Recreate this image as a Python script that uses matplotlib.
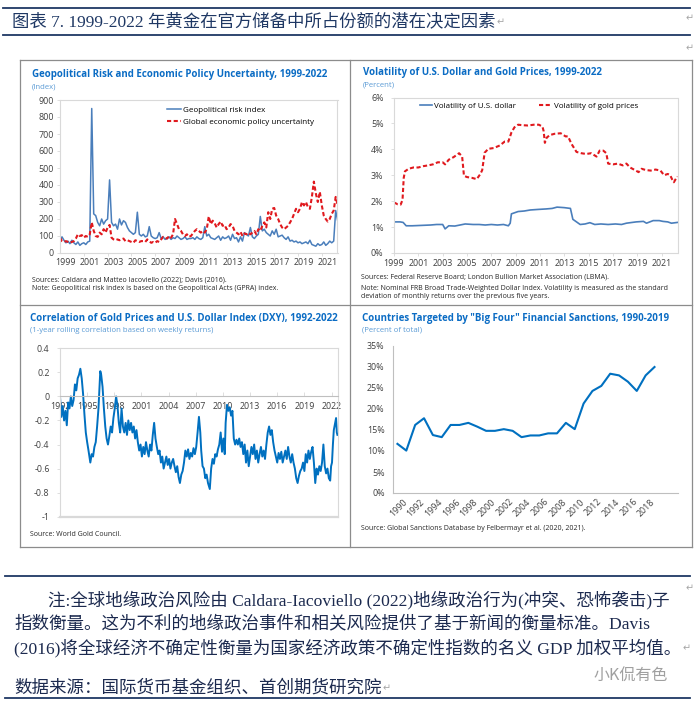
import matplotlib
matplotlib.use("Agg")
import matplotlib.pyplot as plt
import matplotlib.transforms as mtransforms
from matplotlib.lines import Line2D
from matplotlib.text import Annotation
import numpy as np

# %% data ---------------------------------------------------------------------
# geopolitical risk index and global EPU, every second month from Jan 1999
gpr = [
    70, 95, 75, 60, 70, 55,       # 1999
    75, 60, 50, 65, 45, 55,       # 2000
    60, 50, 65, 70, 850, 230,     # 2001
    220, 180, 160, 200, 170, 190,  # 2002
    200, 430, 180, 160, 170, 140,  # 2003
    200, 165, 190, 180, 150, 130,  # 2004
    120, 110, 120, 240, 110, 100,  # 2005
    110, 95, 100, 155, 100, 90,   # 2006
    85, 90, 120, 85, 95, 80,      # 2007
    85, 95, 80, 90, 85, 100,      # 2008
    90, 80, 85, 95, 80, 85,       # 2009
    85, 90, 80, 95, 85, 80,       # 2010
    90, 155, 100, 110, 90, 85,    # 2011
    80, 90, 100, 75, 95, 85,      # 2012
    90, 100, 75, 110, 85, 90,     # 2013
    65, 95, 70, 120, 110, 100,    # 2014
    150, 95, 85, 100, 110, 215,   # 2015
    130, 140, 120, 110, 100, 130,  # 2016
    110, 140, 95, 100, 105, 90,   # 2017
    80, 95, 70, 75, 65, 70,       # 2018
    60, 65, 55, 60, 65, 55,       # 2019
    75, 50, 45, 40, 55, 45,       # 2020
    50, 65, 45, 55, 70, 60,       # 2021
    70, 250, 190,                 # 2022
]
epu = [
    90, 70, 65, 70, 65, 60,
    65, 70, 85, 110, 100, 105,
    90, 100, 95, 110, 180, 130,
    100, 95, 120, 110, 140, 120,
    150, 165, 90, 80, 75, 80,
    75, 80, 85, 70, 75, 70,
    65, 60, 75, 70, 65, 70,
    70, 65, 80, 70, 60, 65,
    60, 70, 65, 80, 95, 90,
    85, 100, 90, 110, 200, 170,
    140, 130, 110, 100, 110, 95,
    100, 115, 130, 140, 130, 120,
    130, 120, 140, 215, 170, 190,
    175, 150, 170, 185, 160, 165,
    140, 150, 170, 160, 130, 120,
    110, 125, 100, 115, 110, 120,
    110, 120, 130, 110, 140, 130,
    160, 180, 150, 240, 200, 260,
    265, 220, 200, 170, 150, 140,
    150, 160, 180, 200, 230, 260,
    240, 260, 300, 280, 300, 270,
    260, 330, 420, 350, 300, 360,
    280, 220, 200, 185, 200, 230,
    250, 330, 280,
]
geo_labels = [1999, 2001, 2003, 2005, 2007, 2009, 2011, 2013, 2015, 2017, 2019, 2021]

# volatility (percent)
gold_years = [1999.0, 1999.3, 1999.55, 1999.7, 1999.8, 1999.9, 2000.2, 2000.6,
              2001.0, 2001.4, 2001.8, 2002.2, 2002.6, 2003.0, 2003.2, 2003.5,
              2003.9, 2004.2, 2004.35, 2004.6, 2004.75, 2005.0, 2005.4, 2005.8,
              2006.1, 2006.25, 2006.45, 2006.75, 2007.2, 2007.7, 2008.1, 2008.4,
              2008.65, 2008.9, 2009.2, 2009.6, 2010.0, 2010.5, 2010.9, 2011.2,
              2011.3, 2011.4, 2011.55, 2011.8, 2012.2, 2012.7, 2013.1, 2013.3,
              2013.6, 2014.0, 2014.4, 2014.8, 2015.2, 2015.65, 2015.9, 2016.2,
              2016.45, 2016.6, 2017.0, 2017.4, 2017.8, 2018.1, 2018.4, 2018.8,
              2019.1, 2019.35, 2019.7, 2020.1, 2020.5, 2020.9, 2021.2, 2021.5,
              2021.7, 2021.85, 2022.0, 2022.15, 2022.3]
gold_vol = [1.95, 1.88, 1.87, 2.05, 2.9, 3.15, 3.25, 3.3,
            3.3, 3.35, 3.38, 3.42, 3.5, 3.5, 3.42, 3.6,
            3.7, 3.8, 3.85, 3.72, 2.98, 2.93, 2.9, 2.85,
            3.05, 3.2, 3.87, 4.02, 4.05, 4.15, 4.3, 4.3,
            4.65, 4.85, 4.95, 4.93, 4.92, 4.95, 4.95, 4.88,
            4.7, 4.25, 4.45, 4.55, 4.6, 4.62, 4.5, 4.5,
            4.2, 3.9, 3.85, 3.82, 3.85, 3.72, 3.95, 3.95,
            3.85, 3.45, 3.42, 3.45, 3.38, 3.45, 3.3, 3.2,
            3.12, 3.25, 3.2, 3.18, 3.22, 3.18, 3.0, 3.05,
            3.0, 2.85, 2.73, 2.85, 2.95]
usd_years = [1999.0, 1999.5, 1999.75, 2000.0, 2000.5, 2001.0, 2001.5, 2002.0,
             2002.5, 2003.0, 2003.2, 2003.5, 2004.0, 2004.85, 2005.5, 2006.0,
             2006.5, 2007.0, 2007.5, 2008.0, 2008.4, 2008.55, 2008.65, 2009.2,
             2009.7, 2010.2, 2010.8, 2011.5, 2012.0, 2012.4, 2013.0, 2013.5,
             2013.7, 2014.0, 2014.3, 2014.7, 2015.1, 2015.5, 2016.0, 2016.6,
             2017.2, 2017.7, 2018.1, 2018.9, 2019.5, 2019.75, 2020.3, 2020.8,
             2021.1, 2021.5, 2021.8, 2022.3]
usd_vol = [1.2, 1.2, 1.18, 1.05, 1.05, 1.06, 1.07, 1.08,
           1.1, 1.1, 0.93, 1.05, 1.04, 1.12, 1.1, 1.1,
           1.08, 1.1, 1.08, 1.1, 1.05, 1.15, 1.51, 1.6,
           1.62, 1.66, 1.68, 1.7, 1.72, 1.77, 1.75, 1.72,
           1.3, 1.2, 1.1, 1.12, 1.17, 1.1, 1.12, 1.1,
           1.12, 1.1, 1.15, 1.2, 1.22, 1.15, 1.25, 1.25,
           1.22, 1.2, 1.15, 1.18]
vol_labels = [1999, 2001, 2003, 2005, 2007, 2009, 2011, 2013, 2015, 2017, 2019, 2021]

# gold / DXY rolling correlation
corr_years = [
    1992.0, 1992.15, 1992.3, 1992.45, 1992.6, 1992.75, 1992.9, 1993.05,
    1993.2, 1993.35, 1993.5, 1993.65, 1993.8, 1993.95, 1994.1, 1994.25,
    1994.4, 1994.55, 1994.7, 1994.85, 1995.0, 1995.15, 1995.35, 1995.5,
    1995.65, 1995.8, 1995.95, 1996.1, 1996.25, 1996.35, 1996.45, 1996.55,
    1996.7, 1996.85, 1997.0, 1997.15, 1997.3, 1997.45, 1997.6, 1997.75,
    1997.9, 1998.05, 1998.2, 1998.35, 1998.5, 1998.65, 1998.8, 1998.95,
    1999.1, 1999.25, 1999.4, 1999.55, 1999.7, 1999.85, 2000.0, 2000.15,
    2000.3, 2000.45, 2000.6, 2000.75, 2000.9, 2001.05, 2001.2, 2001.35,
    2001.5, 2001.65, 2001.8, 2001.95, 2002.1, 2002.25, 2002.4, 2002.55,
    2002.7, 2002.85, 2003.0, 2003.15, 2003.3, 2003.45, 2003.6, 2003.75,
    2003.9, 2004.05, 2004.2, 2004.35, 2004.5, 2004.65, 2004.8, 2004.95,
    2005.1, 2005.25, 2005.4, 2005.55, 2005.7, 2005.85, 2006.0, 2006.15,
    2006.3, 2006.45, 2006.6, 2006.75, 2006.9, 2007.05, 2007.2, 2007.35,
    2007.5, 2007.6, 2007.75, 2007.9, 2008.05, 2008.2, 2008.35, 2008.55,
    2008.7, 2008.85, 2009.0, 2009.15, 2009.3, 2009.45, 2009.6, 2009.75,
    2009.9, 2010.05, 2010.2, 2010.3, 2010.45, 2010.6, 2010.75, 2010.9,
    2011.05, 2011.2, 2011.35, 2011.5, 2011.65, 2011.8, 2011.95, 2012.1,
    2012.25, 2012.4, 2012.55, 2012.7, 2012.85, 2013.0, 2013.15, 2013.3,
    2013.45, 2013.6, 2013.75, 2013.9, 2014.05, 2014.2, 2014.35, 2014.5,
    2014.65, 2014.8, 2014.95, 2015.1, 2015.25, 2015.4, 2015.55, 2015.7,
    2015.85, 2016.0, 2016.15, 2016.3, 2016.45, 2016.6, 2016.75, 2016.9,
    2017.05, 2017.2, 2017.35, 2017.5, 2017.65, 2017.8, 2017.95, 2018.1,
    2018.25, 2018.4, 2018.55, 2018.7, 2018.85, 2019.0, 2019.15, 2019.3,
    2019.45, 2019.6, 2019.75, 2019.9, 2020.05, 2020.2, 2020.35, 2020.5,
    2020.65, 2020.8, 2020.95, 2021.1, 2021.25, 2021.4, 2021.55, 2021.7,
    2021.85, 2021.95, 2022.05, 2022.15, 2022.25, 2022.4, 2022.5, 2022.58,
    2022.65,
]
corr_vals = [
    0.0, -0.17, -0.08, -0.2, -0.12, -0.24, -0.05, -0.1,
    0.0, -0.08, -0.03, 0.1, 0.05, 0.15, 0.18, 0.23,
    0.15, 0.02, -0.15, -0.3, -0.38, -0.45, -0.55, -0.48,
    -0.5, -0.42, -0.38, -0.25, -0.1, 0.05, 0.21, 0.18,
    0.08, -0.1, -0.25, -0.35, -0.4, -0.33, -0.25, -0.3,
    -0.18, -0.1, 0.0, -0.08, -0.22, -0.3, -0.1, -0.25,
    -0.3, -0.22, -0.32, -0.2, -0.28, -0.22, -0.3, -0.25,
    -0.35, -0.28, -0.38, -0.45, -0.4, -0.5, -0.42, -0.48,
    -0.38, -0.45, -0.5, -0.4, -0.45, -0.32, -0.22, -0.35,
    -0.42, -0.48, -0.45, -0.55, -0.5, -0.6, -0.55, -0.5,
    -0.57, -0.52, -0.6, -0.55, -0.52, -0.58, -0.63, -0.58,
    -0.67, -0.72, -0.65, -0.62, -0.55, -0.45, -0.5, -0.44,
    -0.52, -0.47, -0.5, -0.43, -0.48, -0.42, -0.3, -0.17,
    -0.3, -0.45, -0.58, -0.6, -0.68, -0.65, -0.72, -0.77,
    -0.6, -0.52, -0.56, -0.48, -0.5, -0.44, -0.4, -0.3,
    -0.46, -0.35, -0.48, -0.22, -0.07, -0.12, -0.09, -0.16,
    -0.12, -0.35, -0.4, -0.36, -0.4, -0.35, -0.42, -0.38,
    -0.48, -0.4, -0.55, -0.45, -0.58, -0.5, -0.42, -0.48,
    -0.4, -0.52, -0.45, -0.55, -0.48, -0.42, -0.5, -0.45,
    -0.52, -0.4, -0.3, -0.25, -0.32, -0.28, -0.38, -0.45,
    -0.5, -0.55, -0.47, -0.52, -0.46, -0.55, -0.5, -0.45,
    -0.52, -0.42, -0.5, -0.55, -0.48, -0.55, -0.6, -0.68,
    -0.72, -0.66, -0.62, -0.6, -0.55, -0.62, -0.48, -0.55,
    -0.45, -0.52, -0.46, -0.42, -0.55, -0.72, -0.6, -0.65,
    -0.58, -0.62, -0.55, -0.4, -0.58, -0.64, -0.6, -0.68,
    -0.7, -0.58, -0.55, -0.4, -0.28, -0.22, -0.18, -0.3,
    -0.32,
]
corr_labels = [1992, 1995, 1998, 2001, 2004, 2007, 2010, 2013, 2016, 2019, 2022]

# countries targeted by "big four" financial sanctions (percent of total)
sanc_years = list(range(1990, 2020))
sanc_share = [11.7, 10.1, 16.2, 17.8, 13.8, 13.3, 16.2, 16.2, 16.7, 15.8,
              14.8, 14.8, 15.2, 14.8, 13.3, 13.7, 13.7, 14.2, 14.2, 16.7,
              15.2, 21.3, 24.3, 25.5, 28.4, 28.0, 26.5, 24.3, 28.0, 30.0]
sanc_labels = list(range(1990, 2019, 2))

# %% styling ------------------------------------------------------------------
plt.rcParams["font.family"] = ["Open Sans", "DejaVu Sans"]
CN = ["Liberation Serif", "Noto Sans CJK SC", "DejaVu Sans"]
NAVY = "#1F3864"
INK = "#1C2A4F"
BLUE1 = "#4A7EBB"
BLUE2 = "#0070C0"
RED = "#E0191E"
TITLE = "#0B6CC4"
SUB = "#5B9BD5"
FRAME = "#D9D9D9"
TXT = "#404040"
PANEL = "#8C8C8C"
ARROW = "#A6A6A6"
TICK_FS = 6.4

W, H = 700, 706
fig = plt.figure(figsize=(W / 100, H / 100), dpi=100)
fig.patch.set_facecolor("white")


def box(x0, y0, x1, y1):
    # pixel box (top-left origin) -> figure rect
    return [x0 / W, 1 - y1 / H, (x1 - x0) / W, (y1 - y0) / H]


def put(x, y, s, **kw):
    kw.setdefault("va", "center")
    return fig.text(x / W, 1 - y / H, s, **kw)


def mark_end(t):
    # word-processor paragraph mark right after a text
    fig.add_artist(Annotation("↵", xy=(1, 0.5), xycoords=t, xytext=(1, -0.5),
                              textcoords="offset points", va="center",
                              fontsize=7, color=ARROW, family="DejaVu Sans"))


def rule(x0, y0, x1, y1, **kw):
    fig.add_artist(Line2D([x0 / W, x1 / W], [1 - y0 / H, 1 - y1 / H],
                          transform=fig.transFigure, **kw))


def style(ax, sides=("left", "right", "top", "bottom")):
    for k, sp in ax.spines.items():
        sp.set_visible(k in sides)
        sp.set_color(FRAME)
        sp.set_linewidth(0.8)
    ax.tick_params(labelsize=TICK_FS, labelcolor=TXT, color=FRAME,
                   width=0.6, length=2.5, pad=2)


def heading(x, y, title, sub):
    put(x, y, title, fontsize=7.0, fontweight="bold", color=TITLE)
    put(x, y + 12, sub, fontsize=5.6, color=SUB)


def source(x, y, s):
    put(x, y, s, fontsize=5.0, color="#262626")


# %% page frame ---------------------------------------------------------------
rule(3, 8, 690, 8, color=NAVY, lw=1.3)
rule(3, 35, 690, 35, color=NAVY, lw=1.3)
t = put(12, 22, "图表 7. 1999-2022 年黄金在官方储备中所占份额的潜在决定因素",
        fontsize=12.5, color=NAVY, family=CN)
mark_end(t)
put(686, 18, "↵", fontsize=7, color=ARROW, family="DejaVu Sans")
put(686, 48, "↵", fontsize=7, color=ARROW, family="DejaVu Sans")

for xx in (20, 350, 692):
    rule(xx, 60, xx, 547, color=PANEL, lw=0.9)
for yy in (60, 305, 547):
    rule(20, yy, 692, yy, color=PANEL, lw=0.9)

# %% chart 1: geopolitical risk / EPU -----------------------------------------
heading(32, 75, "Geopolitical Risk and Economic Policy Uncertainty, 1999-2022", "(Index)")
ax1 = fig.add_axes(box(60, 100, 337.5, 253))
x_geo = 1999 + np.arange(len(gpr)) / 6
ax1.plot(x_geo, gpr, color=BLUE1, lw=1.1, label="Geopolitical risk index")
ax1.plot(x_geo, epu, color=RED, lw=1.5, ls=(0, (2.0, 1.2)),
         label="Global economic policy uncertainty")
ax1.set_xlim(1999, 2022.32)
ax1.set_ylim(0, 900)
ax1.set_yticks(np.arange(0, 901, 100))
ax1.set_xticks([y for y in geo_labels[1:]])
ax1.set_xticks([y + 0.5 for y in geo_labels], minor=True)
ax1.set_xticklabels([str(y) for y in geo_labels], minor=True)
style(ax1)
ax1.tick_params(axis="x", which="major", labelbottom=False)
ax1.tick_params(axis="x", which="minor", length=0, labelsize=TICK_FS, labelcolor=TXT)
ax1.legend(loc="upper left", bbox_to_anchor=(0.385, 0.96), frameon=False,
           fontsize=5.8, handlelength=1.7, handletextpad=0.25,
           labelspacing=0.6, borderpad=0, borderaxespad=0)
source(32, 280, "Sources: Caldara and Matteo Iacoviello (2022); Davis (2016).")
source(32, 289, "Note: Geopolitical risk index is based on the Geopolitical Acts (GPRA) index.")

# %% chart 2: volatility ------------------------------------------------------
heading(363, 73, "Volatility of U.S. Dollar and Gold Prices, 1999-2022", "(Percent)")
ax2 = fig.add_axes(box(394, 97.5, 677.5, 253))
ax2.plot(usd_years, usd_vol, color=BLUE1, lw=1.2, label="Volatility of U.S. dollar")
ax2.plot(gold_years, gold_vol, color=RED, lw=1.5, ls=(0, (2.0, 1.2)),
         label="Volatility of gold prices")
ax2.set_xlim(1999, 2022.3)
ax2.set_ylim(0, 6)
ax2.set_yticks(range(0, 7))
ax2.set_yticklabels([f"{v}%" for v in range(0, 7)])
ax2.set_xticks(vol_labels)
ax2.set_xticklabels([str(y) for y in vol_labels])
style(ax2)
ax2.tick_params(axis="y", pad=5)
ax2.legend(loc="upper left", bbox_to_anchor=(0.09, 0.97), ncol=2, frameon=False,
           fontsize=5.8, handlelength=1.6, handletextpad=0.25, columnspacing=2.8,
           borderpad=0, borderaxespad=0)
source(361, 277, "Sources: Federal Reserve Board; London Bullion Market Association (LBMA).")
source(361, 288, "Note: Nominal FRB Broad Trade-Weighted Dollar Index. Volatility is measured as the standard")
source(361, 297, "deviation of monthly returns over the previous five years.")

# %% chart 3: correlation -----------------------------------------------------
heading(30, 319, "Correlation of Gold Prices and U.S. Dollar Index (DXY), 1992-2022",
        "(1-year rolling correlation based on weekly returns)")
ax3 = fig.add_axes(box(60, 348.3, 337.7, 516.7))
ax3.plot(corr_years, corr_vals, color=BLUE2, lw=1.4)
ax3.set_xlim(1992, 2022.68)
ax3.set_ylim(-1, 0.4)
yt3 = [0.4, 0.2, 0, -0.2, -0.4, -0.6, -0.8, -1]
ax3.set_yticks(yt3)
ax3.set_yticklabels([f"{v:g}" for v in yt3])
ax3.set_xticks(corr_labels)
ax3.set_xticklabels([str(y) for y in corr_labels])
style(ax3)
ax3.spines["bottom"].set_position(("data", 0))
ax3.spines["bottom"].set_color("#BFBFBF")
ax3.axhline(-1, color=FRAME, lw=1.6, clip_on=False)
ax3.tick_params(axis="x", direction="in", length=3, pad=4)
ax3.tick_params(axis="y", pad=5)
source(30, 534, "Source: World Gold Council.")

# %% chart 4: sanctions -------------------------------------------------------
heading(362, 318, 'Countries Targeted by "Big Four" Financial Sanctions, 1990-2019',
        "(Percent of total)")
ax4 = fig.add_axes(box(393, 346, 678, 493))
ax4.plot(sanc_years, sanc_share, color=BLUE2, lw=1.5)
ax4.set_xlim(1989.5, 2021.65)
ax4.set_ylim(0, 35)
ax4.set_yticks(range(0, 36, 5))
ax4.set_yticklabels([f"{v}%" for v in range(0, 36, 5)])
ax4.set_xticks(sanc_labels)
ax4.set_xticklabels([str(y) for y in sanc_labels], rotation=45, ha="right",
                    va="top", rotation_mode="anchor")
style(ax4, sides=("left", "bottom"))
ax4.spines["left"].set_color("#BFBFBF")
ax4.spines["bottom"].set_color("#BFBFBF")
ax4.tick_params(length=0)
ax4.tick_params(axis="y", pad=6)
ax4.tick_params(axis="x", pad=3)
shift = mtransforms.ScaledTranslation(5 / 100, 0, fig.dpi_scale_trans)
for lab in ax4.get_xticklabels():
    lab.set_transform(lab.get_transform() + shift)
source(361, 529, "Source: Global Sanctions Database by Felbermayr et al. (2020, 2021).")

# %% notes below --------------------------------------------------------------
rule(5, 576, 690, 576, color=NAVY, lw=1.3)
rule(5, 698, 690, 698, color=NAVY, lw=1.3)
NOTE_FS = 12.6
put(48, 600, "注:全球地缘政治风险由 Caldara-Iacoviello (2022)地缘政治行为(冲突、恐怖袭击)子",
    fontsize=NOTE_FS, color=INK, family=CN)
put(14, 624, "指数衡量。这为不利的地缘政治事件和相关风险提供了基于新闻的衡量标准。Davis",
    fontsize=NOTE_FS, color=INK, family=CN)
t = put(14, 648, "(2016)将全球经济不确定性衡量为国家经济政策不确定性指数的名义 GDP 加权平均值。",
        fontsize=NOTE_FS, color=INK, family=CN)
mark_end(t)
t = put(14, 688, "数据来源：国际货币基金组织、首创期货研究院",
        fontsize=NOTE_FS, color=INK, family=CN)
mark_end(t)
put(686, 588, "↵", fontsize=7, color=ARROW, family="DejaVu Sans")
put(594, 676, "小K侃有色", fontsize=11.5, color="#A0A0A0", family=["Noto Sans CJK SC"])

fig.savefig("out.png", dpi=100, facecolor="white")
